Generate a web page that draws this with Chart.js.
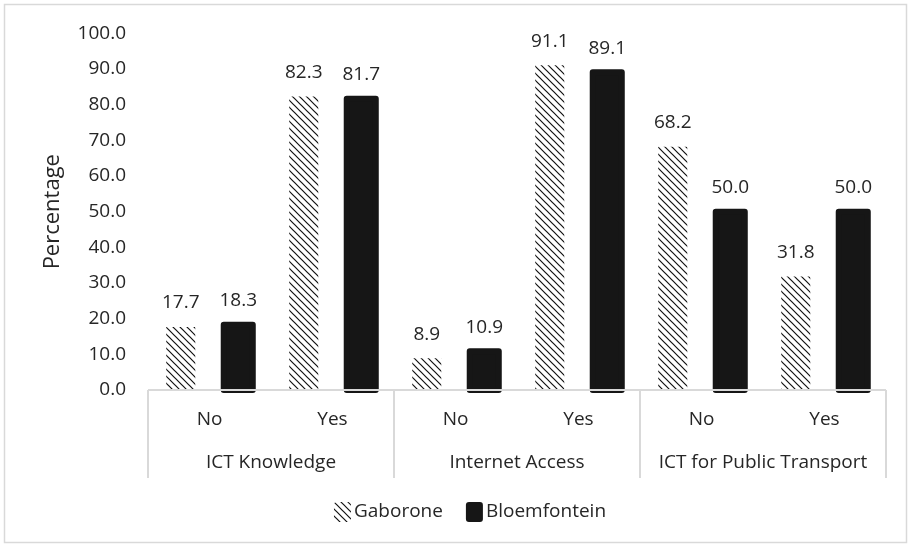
<!DOCTYPE html>
<html>
<head>
<meta charset="utf-8">
<script src="https://cdn.jsdelivr.net/npm/chart.js@4.4.1/dist/chart.umd.min.js"></script>
<style>
  html, body { margin: 0; padding: 0; background: #fff; }
  #wrap { width: 911px; height: 547px; }
</style>
</head>
<body>
<div id="wrap"><canvas id="grafico"></canvas></div>
<script>
// datos
const subLabels = ['No', 'Yes', 'No', 'Yes', 'No', 'Yes'];
const groupLabels = ['ICT Knowledge', 'Internet Access', 'ICT for Public Transport'];
const gaborone = [17.7, 82.3, 8.9, 91.1, 68.2, 31.8];
const bloemfontein = [18.3, 81.7, 10.9, 89.1, 50.0, 50.0];
const yTickValues = [0, 10, 20, 30, 40, 50, 60, 70, 80, 90, 100];

const FONT = 'Open Sans';
const TEXT = '#262626';
const LINE = '#d9d9d9';
const NEGRO = '#161616';

// trama diagonal para Gaborone
function crearTrama() {
    const tile = document.createElement('canvas');
    tile.width = 7;
    tile.height = 7;
    const g = tile.getContext('2d');
    g.fillStyle = '#fff';
    g.fillRect(0, 0, 7, 7);
    g.strokeStyle = '#111';
    g.lineWidth = 1.2;
    g.beginPath();
    g.moveTo(-1, -1); g.lineTo(8, 8);
    g.moveTo(-1, 6); g.lineTo(1, 8);
    g.moveTo(6, -1); g.lineTo(8, 1);
    g.stroke();
    return document.createElement('canvas').getContext('2d').createPattern(tile, 'repeat');
}
const trama = crearTrama();

function cajaRedonda(ctx, x, y, w, h, r) {
    ctx.beginPath();
    ctx.moveTo(x + r, y);
    ctx.arcTo(x + w, y, x + w, y + h, r);
    ctx.arcTo(x + w, y + h, x, y + h, r);
    ctx.arcTo(x, y + h, x, y, r);
    ctx.arcTo(x, y, x + w, y, r);
    ctx.closePath();
}

// marco, borde de barras negras, etiquetas, eje agrupado y leyenda
const extras = {
    id: 'extras',
    beforeDraw(chart) {
        const ctx = chart.ctx;
        ctx.save();
        ctx.fillStyle = '#fff';
        ctx.fillRect(0, 0, chart.width, chart.height);
        ctx.strokeStyle = LINE;
        ctx.lineWidth = 1.5;
        ctx.strokeRect(4.5, 4.5, chart.width - 9, chart.height - 9);
        ctx.restore();
    },
    afterDatasetsDraw(chart) {
        const ctx = chart.ctx;
        const area = chart.chartArea;
        ctx.save();
        // borde grueso de Bloemfontein
        chart.getDatasetMeta(1).data.forEach(bar => {
            const p = bar.getProps(['x', 'y', 'base', 'width'], true);
            ctx.strokeStyle = NEGRO;
            ctx.lineWidth = 6;
            ctx.lineJoin = 'round';
            ctx.strokeRect(p.x - p.width / 2, p.y, p.width, p.base - p.y);
        });
        // linea del eje
        ctx.strokeStyle = LINE;
        ctx.lineWidth = 2;
        ctx.beginPath();
        ctx.moveTo(area.left, area.bottom);
        ctx.lineTo(area.right, area.bottom);
        ctx.stroke();
        // valores sobre las barras
        ctx.fillStyle = TEXT;
        ctx.font = '19px "' + FONT + '"';
        ctx.textAlign = 'center';
        ctx.textBaseline = 'middle';
        chart.data.datasets.forEach((ds, i) => {
            chart.getDatasetMeta(i).data.forEach((bar, j) => {
                ctx.fillText(ds.data[j].toFixed(1), bar.x, bar.y - 24);
            });
        });
        ctx.restore();
    },
    afterDraw(chart) {
        const ctx = chart.ctx;
        const x = chart.scales.x;
        const ancho = (x.right - x.left) / groupLabels.length;
        ctx.save();
        ctx.strokeStyle = LINE;
        ctx.lineWidth = 2;
        ctx.beginPath();
        for (let i = 0; i <= groupLabels.length; i++) {
            const px = x.left + ancho * i;
            ctx.moveTo(px, x.top);
            ctx.lineTo(px, x.bottom);
        }
        ctx.stroke();
        ctx.fillStyle = TEXT;
        ctx.font = '19px "' + FONT + '"';
        ctx.textAlign = 'center';
        ctx.textBaseline = 'middle';
        groupLabels.forEach((g, i) => {
            ctx.fillText(g, x.left + ancho * (i + 0.5), x.top + 73);
        });

        // leyenda
        const ds = chart.data.datasets;
        const caja = 17, sep = 3, entre = 23;
        ctx.textAlign = 'left';
        const anchos = ds.map(d => ctx.measureText(d.label).width);
        const total = anchos.reduce((a, w) => a + caja + sep + w, 0) + entre * (ds.length - 1);
        let lx = 470 - total / 2;
        const ly = x.bottom + 34;
        ds.forEach((d, i) => {
            ctx.fillStyle = d.backgroundColor;
            cajaRedonda(ctx, lx, ly - 10, caja, 20, 3);
            ctx.fill();
            ctx.fillStyle = TEXT;
            ctx.fillText(d.label, lx + caja + sep, ly);
            lx += caja + sep + anchos[i] + entre;
        });
        ctx.restore();
    }
};

new Chart(document.getElementById('grafico'), {
    type: 'bar',
    data: {
        labels: subLabels,
        datasets: [{
                label: 'Gaborone',
                data: gaborone,
                backgroundColor: trama,
                borderWidth: 0
            }, {
                label: 'Bloemfontein',
                data: bloemfontein,
                backgroundColor: NEGRO,
                borderWidth: 0
            }]
    },
    options: {
        responsive: true,
        maintainAspectRatio: false,
        animation: false,
        categoryPercentage: 0.935,
        barPercentage: 0.505,
        layout: {
            padding: {top: 33, right: 25, left: 0, bottom: 69}
        },
        plugins: {
            legend: {display: false},
            tooltip: {enabled: false}
        },
        scales: {
            y: {
                min: 0,
                max: 100,
                afterBuildTicks: scale => {
                    scale.ticks = yTickValues.map(v => ({value: v}));
                },
                afterFit: scale => {
                    scale.width = 148;
                },
                grid: {display: false, drawTicks: false},
                border: {display: false},
                ticks: {
                    color: TEXT,
                    font: {family: FONT, size: 19},
                    padding: 22,
                    callback: v => v.toFixed(1)
                },
                title: {
                    display: true,
                    text: 'Percentage',
                    color: TEXT,
                    font: {family: FONT, size: 22},
                    padding: {top: 40, bottom: 0}
                }
            },
            x: {
                afterFit: scale => {
                    scale.height = 88;
                },
                grid: {display: false, drawTicks: false},
                border: {display: false},
                ticks: {
                    color: TEXT,
                    font: {family: FONT, size: 19},
                    padding: 18,
                    autoSkip: false,
                    maxRotation: 0
                }
            }
        }
    },
    plugins: [extras]
});
</script>
</body>
</html>
